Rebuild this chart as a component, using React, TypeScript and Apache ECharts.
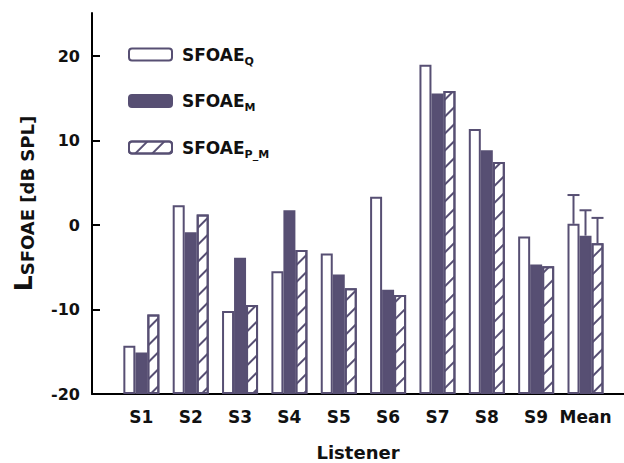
import React, { useEffect, useRef } from "react";
import * as echarts from "echarts";

const categories = ["S1", "S2", "S3", "S4", "S5", "S6", "S7", "S8", "S9", "Mean"];
const seriesNames = ["SFOAE_Q", "SFOAE_M", "SFOAE_P_M"];
const sfoaeQ = [-14.3, 2.3, -10.2, -5.5, -3.4, 3.3, 18.9, 11.3, -1.4, 0.1];
const sfoaeM = [-15.1, -0.9, -3.9, 1.7, -5.9, -7.7, 15.5, 8.8, -4.7, -1.3];
const sfoaePM = [-10.6, 1.2, -9.5, -3.0, -7.5, -8.3, 15.8, 7.4, -4.9, -2.2];
const meanErrorUp = [3.4, 3.0, 3.0];
const yMin = -20;
const yMax = 25;
const yTickMax = 20;
const yInterval = 10;

const DARK = "#574f73";
const FONT = "DejaVu Sans";
const BAR_W = 12;

export default function App() {
  const ref = useRef<HTMLDivElement>(null);
  useEffect(() => {
    document.body.style.margin = "0";
    const chart = echarts.init(ref.current!, null, { renderer: "svg" });
    const all = [sfoaeQ, sfoaeM, sfoaePM];
    const styles = [
      { color: "#ffffff", borderColor: DARK, borderWidth: 2 },
      { color: DARK, borderColor: DARK, borderWidth: 2 },
      {
        color: "#ffffff",
        borderColor: DARK,
        borderWidth: 2,
        decal: {
          symbol: "rect",
          symbolSize: 1,
          dashArrayX: [1, 0],
          dashArrayY: [2, 10],
          rotation: -Math.PI / 4,
          color: DARK,
        },
      },
    ];
    const series: any[] = all.map((vals, k) => ({
      type: "bar",
      name: seriesNames[k],
      barWidth: BAR_W,
      barGap: "0%",
      itemStyle: styles[k],
      data: vals.map((v, i) => [i + 1, v]),
      xAxisIndex: 0,
      yAxisIndex: 0,
    }));
    const meanPos = categories.length;
    series.push({
      type: "custom",
      xAxisIndex: 0,
      yAxisIndex: 0,
      silent: true,
      z: 5,
      data: all.map((vals, k) => [meanPos, vals[meanPos - 1], meanErrorUp[k], k]),
      renderItem: (params: any, api: any) => {
        const x = api.value(0);
        const y = api.value(1);
        const e = api.value(2);
        const k = api.value(3);
        const p0 = api.coord([x, y]);
        const p1 = api.coord([x, y + e]);
        const cx = p0[0] + (k - 1) * BAR_W;
        const st = { stroke: DARK, lineWidth: 2 };
        return {
          type: "group",
          children: [
            { type: "line", shape: { x1: cx, y1: p0[1], x2: cx, y2: p1[1] }, style: st },
            { type: "line", shape: { x1: cx - 6, y1: p1[1], x2: cx + 6, y2: p1[1] }, style: st },
          ],
        };
      },
    });

    const subMap: Record<string, string> = {
      SFOAE_Q: "{a|SFOAE}{b|Q}",
      SFOAE_M: "{a|SFOAE}{b|M}",
      SFOAE_P_M: "{a|SFOAE}{b|P_M}",
    };

    chart.setOption({
      animation: false,
      grid: [
        { left: 92, right: 0, top: 13, bottom: 69, outerBoundsMode: "none" },
        { left: 92, right: 0, top: 56, bottom: 69, outerBoundsMode: "none" },
      ],
      legend: {
        orient: "vertical",
        left: 128,
        top: 46,
        padding: 0,
        itemWidth: 43,
        itemHeight: 12,
        itemGap: 26,
        data: seriesNames,
        selectedMode: false,
        formatter: (n: string) => subMap[n],
        textStyle: {
          rich: {
            a: {
              fontFamily: FONT,
              fontWeight: "bold",
              fontSize: 17,
              color: "#111",
              lineHeight: 24,
              verticalAlign: "middle",
              padding: [0, 0, 0, 5],
            },
            b: {
              fontFamily: FONT,
              fontWeight: "bold",
              fontSize: 11,
              color: "#111",
              lineHeight: 11,
              verticalAlign: "bottom",
            },
          },
        },
      },
      xAxis: [
        {
          type: "value",
          gridIndex: 0,
          min: 0,
          max: 10.78,
          interval: 1,
          axisLine: { show: true, onZero: false, lineStyle: { color: "#000", width: 2 } },
          axisTick: { show: false },
          splitLine: { show: false },
          axisLabel: {
            margin: 14,
            fontFamily: FONT,
            fontWeight: "bold",
            fontSize: 17,
            color: "#111",
            showMaxLabel: false,
            formatter: (v: number) =>
              Number.isInteger(v) && v >= 1 && v <= categories.length ? categories[v - 1] : "",
          },
          name: "Listener",
          nameLocation: "middle",
          nameGap: 49,
          nameTextStyle: { fontFamily: FONT, fontWeight: "bold", fontSize: 18, color: "#111" },
        },
        { type: "value", gridIndex: 1, show: false, min: 0, max: 1 },
      ],
      yAxis: [
        {
          type: "value",
          gridIndex: 0,
          min: yMin,
          max: yMax,
          startValue: yMin,
          axisLine: { show: true, onZero: false, lineStyle: { color: "#000", width: 2 } },
          axisTick: { show: false },
          axisLabel: { show: false },
          splitLine: { show: false },
          name: "{L|L}{t|SFOAE [dB SPL]}",
          nameLocation: "middle",
          nameRotate: 90,
          nameGap: 56,
          nameTextStyle: {
            rich: {
              L: { fontFamily: FONT, fontWeight: "bold", fontSize: 25, color: "#111", verticalAlign: "bottom", lineHeight: 26 },
              t: { fontFamily: FONT, fontWeight: "bold", fontSize: 18, color: "#111", verticalAlign: "bottom", lineHeight: 22 },
            },
          },
        },
        {
          type: "value",
          gridIndex: 1,
          min: yMin,
          max: yTickMax,
          interval: yInterval,
          axisLine: { show: false },
          axisTick: { show: true, inside: true, length: 8, lineStyle: { color: "#000", width: 2 } },
          splitLine: { show: false },
          axisLabel: { margin: 12, fontFamily: FONT, fontWeight: "bold", fontSize: 16, color: "#111" },
        },
      ],
      series,
    });
    return () => chart.dispose();
  }, []);
  return <div ref={ref} style={{ width: 624, height: 463 }} />;
}
